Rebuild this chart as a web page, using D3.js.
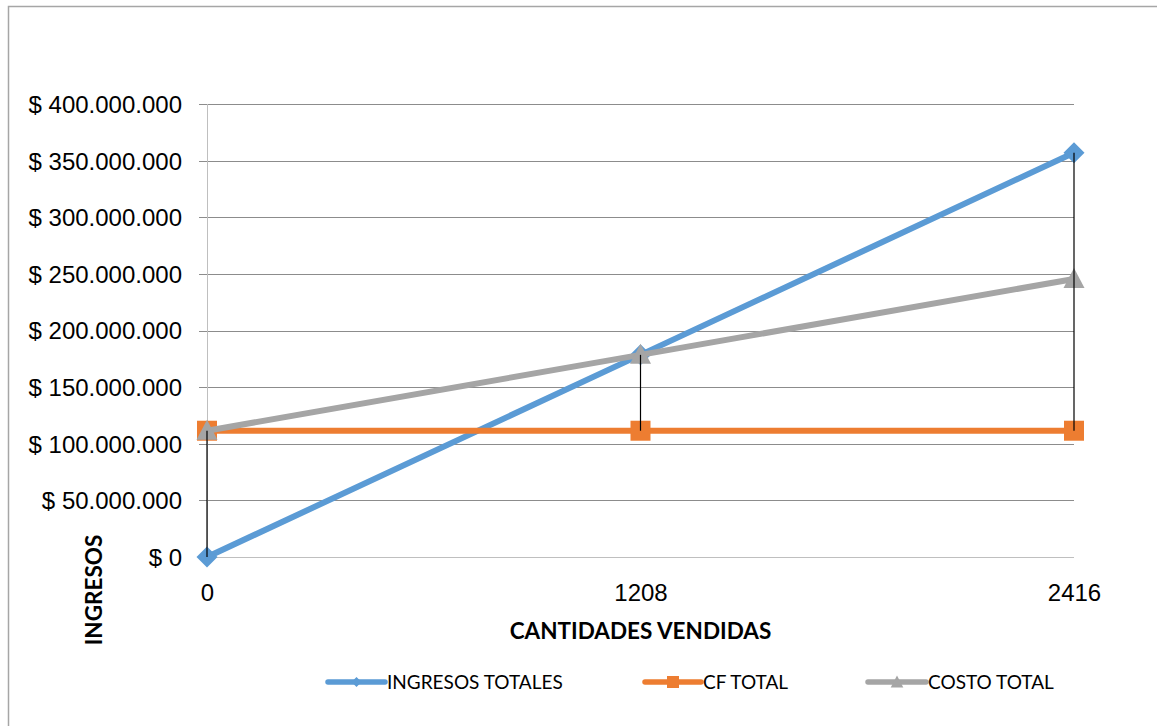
<!DOCTYPE html>
<html>
<head>
<meta charset="utf-8">
<script src="https://cdn.jsdelivr.net/npm/d3@7"></script>
<style>
  html, body { margin: 0; padding: 0; background: #fff; }
  svg { display: block; font-family: Lato, "Open Sans", sans-serif; }
</style>
</head>
<body>
<svg id="chart" width="1157" height="726"></svg>
<script>
// Break-even chart: revenue vs. fixed and total cost by units sold
const categories = ["0", "1208", "2416"];
const ingresosTotales = [0, 178500000, 357000000];
const cfTotal = [111500000, 111500000, 111500000];
const costoTotal = [111500000, 178500000, 245500000];
const yTicks = [0, 50000000, 100000000, 150000000, 200000000, 250000000, 300000000, 350000000, 400000000];

const seriesList = [
  { name: "INGRESOS TOTALES", values: ingresosTotales, color: "#5B9BD5", marker: "diamond" },
  { name: "CF TOTAL", values: cfTotal, color: "#ED7D31", marker: "square" },
  { name: "COSTO TOTAL", values: costoTotal, color: "#A5A5A5", marker: "triangle" }
];

const svg = d3.select("#chart");

// outer chart frame
svg.append("rect")
  .attr("x", 8.5).attr("y", 6.5)
  .attr("width", 1160).attr("height", 740)
  .attr("fill", "#fff")
  .attr("stroke", "#A6A6A6").attr("stroke-width", 1.5);

const plot = { left: 207, right: 1074, top: 104, bottom: 557 };

const x = d3.scalePoint().domain(categories).range([plot.left, plot.right]);
const y = d3.scaleLinear().domain([0, 400000000]).range([plot.bottom, plot.top]);

const fmt = v => "$ " + d3.format(",")(v).replace(/,/g, ".");

// horizontal gridlines with short outside ticks
const yAxis = d3.axisLeft(y)
  .tickValues(yTicks)
  .tickSize(-(plot.right - plot.left))
  .tickSizeOuter(0)
  .tickFormat(fmt);

const gy = svg.append("g")
  .attr("transform", `translate(${plot.left},0)`)
  .call(yAxis);
gy.select(".domain").remove();
gy.selectAll(".tick line")
  .attr("x1", -8)
  .attr("stroke", "#8C8C8C").attr("stroke-width", 1)
  .attr("shape-rendering", "crispEdges");
gy.selectAll(".tick text")
  .attr("x", -25)
  .attr("dy", "0.35em")
  .attr("fill", "#000")
  .style("font-size", "24px");

// axis lines
svg.append("line")
  .attr("x1", plot.left).attr("x2", plot.left)
  .attr("y1", plot.top).attr("y2", plot.bottom)
  .attr("stroke", "#BFBFBF").attr("stroke-width", 1)
  .attr("shape-rendering", "crispEdges");
svg.append("line")
  .attr("x1", plot.left).attr("x2", plot.right)
  .attr("y1", plot.bottom).attr("y2", plot.bottom)
  .attr("stroke", "#BFBFBF").attr("stroke-width", 1)
  .attr("shape-rendering", "crispEdges");

// category axis labels
const xAxis = d3.axisBottom(x).tickSize(0).tickPadding(27);
const gx = svg.append("g")
  .attr("transform", `translate(0,${plot.bottom})`)
  .call(xAxis);
gx.select(".domain").remove();
gx.selectAll(".tick text")
  .attr("fill", "#000")
  .style("font-size", "24px");

// axis titles
svg.append("text")
  .attr("x", x("1208")).attr("y", 639)
  .attr("text-anchor", "middle")
  .style("font-size", "22.5px").style("font-weight", "bold")
  .text("CANTIDADES VENDIDAS");

svg.append("text")
  .attr("transform", "translate(102,590) rotate(-90)")
  .attr("text-anchor", "middle")
  .style("font-size", "22.5px").style("font-weight", "bold")
  .text("INGRESOS");

// series lines
const line = d3.line()
  .x((d, i) => x(categories[i]))
  .y(d => y(d));

const markerPath = (type, s) => {
  if (type === "diamond") return `M0,${-s}L${s},0L0,${s}L${-s},0Z`;
  if (type === "square") return `M${-s},${-s}H${s}V${s}H${-s}Z`;
  return `M0,${-s * 1.1}L${s * 1.05},${s * 0.9}L${-s * 1.05},${s * 0.9}Z`;
};
const markerSize = { diamond: 10.5, square: 10, triangle: 10 };

seriesList.forEach(s => {
  const g = svg.append("g");
  g.append("path")
    .datum(s.values)
    .attr("d", line)
    .attr("fill", "none")
    .attr("stroke", s.color)
    .attr("stroke-width", 6)
    .attr("stroke-linejoin", "round");
  g.selectAll("path.mk")
    .data(s.values)
    .join("path")
    .attr("class", "mk")
    .attr("transform", (d, i) => `translate(${x(categories[i])},${y(d)})`)
    .attr("d", markerPath(s.marker, markerSize[s.marker]))
    .attr("fill", s.color);
});

// high-low lines joining the highest and lowest series at each category
svg.append("g")
  .selectAll("line")
  .data(categories)
  .join("line")
  .attr("x1", c => x(c)).attr("x2", c => x(c))
  .attr("y1", (c, i) => y(d3.max(seriesList, s => s.values[i])))
  .attr("y2", (c, i) => y(d3.min(seriesList, s => s.values[i])))
  .attr("stroke", "#000").attr("stroke-width", 1.2);

// legend
const legendItems = [
  { x1: 328, x2: 385, tx: 387 },
  { x1: 645, x2: 701, tx: 703 },
  { x1: 868, x2: 926, tx: 928 }
];
const legendY = 682;
const lg = svg.append("g");
seriesList.forEach((s, i) => {
  const p = legendItems[i];
  lg.append("line")
    .attr("x1", p.x1).attr("x2", p.x2)
    .attr("y1", legendY).attr("y2", legendY)
    .attr("stroke", s.color).attr("stroke-width", 5.5)
    .attr("stroke-linecap", "round");
  lg.append("path")
    .attr("transform", `translate(${(p.x1 + p.x2) / 2},${legendY})`)
    .attr("d", markerPath(s.marker, s.marker === "diamond" ? 5 : 6))
    .attr("fill", s.color);
  lg.append("text")
    .attr("x", p.tx).attr("y", legendY)
    .attr("dy", "0.35em")
    .attr("fill", "#000")
    .style("font-size", "19px")
    .text(s.name);
});
</script>
</body>
</html>
